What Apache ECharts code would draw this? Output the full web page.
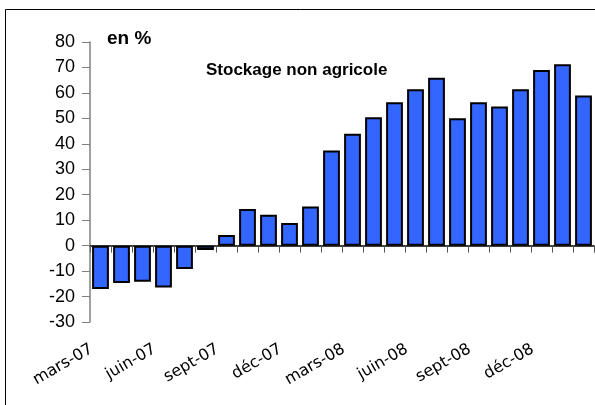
<!DOCTYPE html>
<html>
<head>
<meta charset="utf-8">
<script src="https://cdn.jsdelivr.net/npm/echarts@6/dist/echarts.min.js"></script>
<style>
html,body{margin:0;padding:0;background:#fff;}
#chart{width:595px;height:405px;}
</style>
</head>
<body>
<div id="chart"></div>
<script>
var categories = ['mars-07','avr-07','mai-07','juin-07','juil-07','août-07','sept-07','oct-07','nov-07','déc-07','janv-08','févr-08','mars-08','avr-08','mai-08','juin-08','juil-08','août-08','sept-08','oct-08','nov-08','déc-08','janv-09','févr-09'];
var values = [-17, -14.7, -14.2, -16.4, -9.2, -1.7, 4.2, 14.4, 12.1, 8.9, 15.4, 37.4, 44, 50.4, 56.3, 61.4, 66, 50, 56.3, 54.7, 61.4, 69, 71.3, 59];
var unitLabel = 'en %';
var seriesTitle = 'Stockage non agricole';

var chart = echarts.init(document.getElementById('chart'), null, {renderer:'canvas'});
chart.setOption({
  animation: false,
  backgroundColor: '#ffffff',
  grid: {left: 90, right: 1, top: 42, bottom: 83, containLabel: false, outerBoundsMode: 'none'},
  graphic: [
    {type:'rect', shape:{x:5.5, y:9.5, width:600, height:400}, style:{fill:'none', stroke:'#000', lineWidth:1}, z:-10},
    {type:'text', left:107, top:29, style:{text: unitLabel, font:'bold 19px "Liberation Sans", Arial, sans-serif', fill:'#000'}},
    {type:'text', left:206, top:62, style:{text: seriesTitle, font:'bold 17px "Liberation Sans", Arial, sans-serif', fill:'#000'}}
  ],
  xAxis: {
    type:'category',
    data: categories,
    boundaryGap: true,
    axisLine: {onZero:true, lineStyle:{color:'#000', width:1.5}},
    axisTick: {show:true, interval:0, length:7, lineStyle:{color:'#555', width:1}},
    axisLabel: {
      interval: 2, rotate: 30, margin: 21,
      padding: [0, 10, 0, 0],
      fontFamily: '"DejaVu Sans", Verdana, sans-serif', fontSize: 16, color:'#000'
    },
    splitLine: {show:false}
  },
  yAxis: {
    type:'value', min:-30, max:80, interval:10,
    axisLine: {show:true, lineStyle:{color:'#808080', width:1.5}},
    axisTick: {show:true, length:8, lineStyle:{color:'#808080', width:1}},
    axisLabel: {margin:15, fontFamily:'"Liberation Sans", Arial, sans-serif', fontSize:18, color:'#000'},
    splitLine: {show:false}
  },
  series: [{
    type:'bar',
    data: values,
    barCategoryGap: '20%',
    itemStyle: {color:'#3366FF', borderColor:'#000', borderWidth:2}
  }]
});
</script>
</body>
</html>
